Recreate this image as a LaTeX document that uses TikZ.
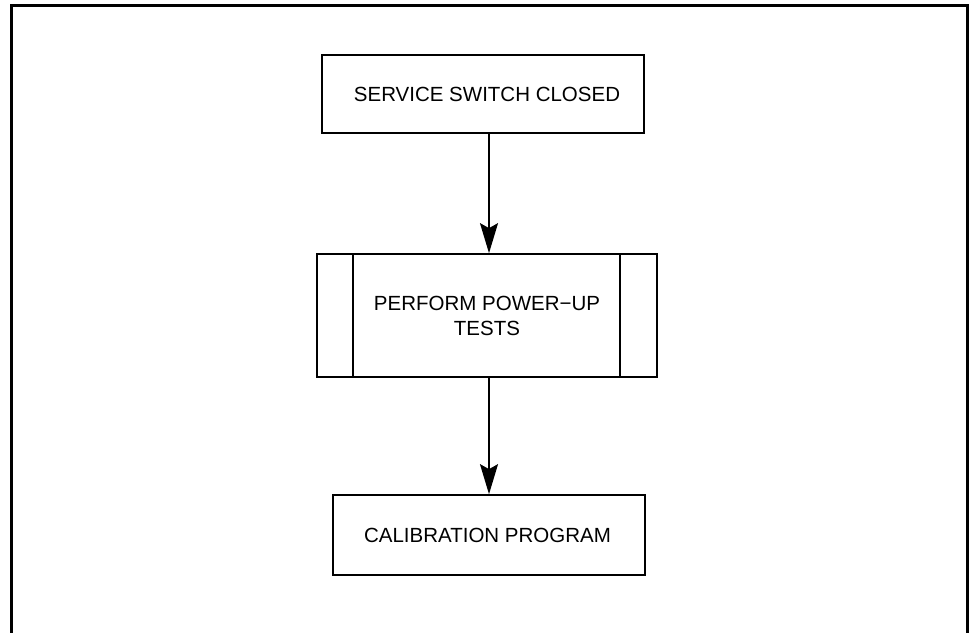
\documentclass[tikz,border=0pt]{standalone}
\usepackage{fontspec}
\setmainfont{Liberation Sans}
\usetikzlibrary{arrows.meta}
\begin{document}
\begin{tikzpicture}[x=1pt,y=-1pt,
  box/.style={draw,line width=1.7pt,minimum width=#1,inner sep=0pt,font=\fontsize{20.5}{25}\selectfont,align=center},
  arr/.style={line width=1.7pt,-{Stealth[length=30pt,width=18pt,inset=5pt]}},
  frame/.style={line width=3pt}]
\useasboundingbox (0,0) rectangle (971,632);
\draw[frame] (11.5,640) -- (11.5,5.5) -- (967.5,5.5) -- (967.5,640);
\node[box=322pt,minimum height=78pt] (a) at (483,94) {\hspace*{8pt}SERVICE SWITCH CLOSED};
\node[box=340pt,minimum height=123pt] (b) at (487,315.5) {PERFORM POWER\textminus UP\\TESTS};
\draw[line width=1.7pt] (b.north west) ++(37,0) coordinate (b1) -- (b1 |- b.south);
\draw[line width=1.7pt] (b.north east) ++(-38,0) coordinate (b2) -- (b2 |- b.south);
\node[box=312pt,minimum height=80pt] (c) at (489,535) {\hspace*{-3pt}CALIBRATION PROGRAM};
\draw[arr] (a.south -| 489,0) -- (b.north -| 489,0);
\draw[arr] (b.south -| 489,0) -- (c.north -| 489,0);
\end{tikzpicture}
\end{document}
